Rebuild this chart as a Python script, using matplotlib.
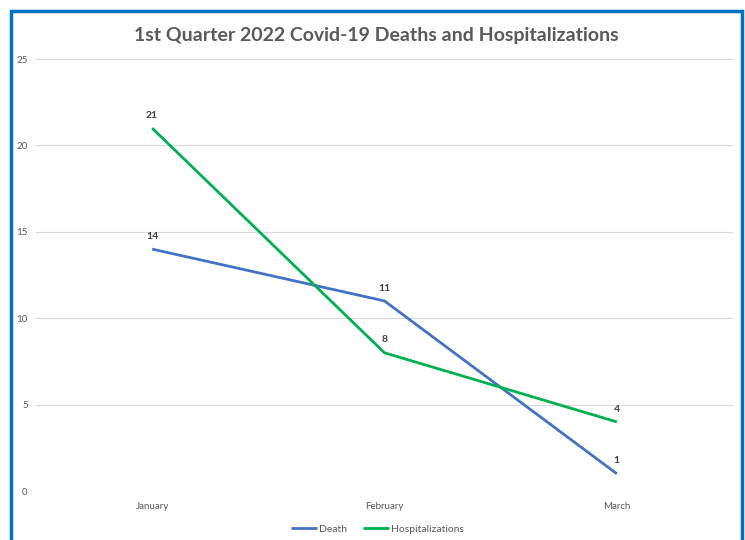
import matplotlib.pyplot as plt
from matplotlib.patches import Rectangle

months = ["January", "February", "March"]
deaths = [14, 11, 1]
hospitalizations = [21, 8, 4]

plt.rcParams['font.family'] = ['Lato', 'DejaVu Sans']

fig = plt.figure(figsize=(7.45, 5.4), dpi=100)
ax = fig.add_axes([0.0483, 0.0907, 0.9356, 0.80])

x = range(len(months))
ax.plot(x, deaths, color='#4472C4', linewidth=2, label='Death', solid_capstyle='butt')
ax.plot(x, hospitalizations, color='#00B050', linewidth=2, label='Hospitalizations',
        solid_capstyle='butt')

# data labels above points
for xi, v in zip(x, deaths):
    ax.annotate(str(v), (xi, v), xytext=(0, 6), textcoords='offset points',
                ha='center', va='bottom', fontsize=7.5, fontweight='bold', color='#404040')
for xi, v in zip(x, hospitalizations):
    ax.annotate(str(v), (xi, v), xytext=(0, 6), textcoords='offset points',
                ha='center', va='bottom', fontsize=7.5, fontweight='bold', color='#404040')

ax.set_xlim(-0.5, 2.5)
ax.set_ylim(0, 25)
ax.set_yticks(range(0, 26, 5))
ax.set_xticks(list(x))
ax.set_xticklabels(months)
ax.grid(axis='y', color='#D9D9D9', linewidth=0.8)
ax.set_axisbelow(True)
for s in ax.spines.values():
    s.set_visible(False)
ax.tick_params(length=0, labelsize=7, colors='#595959', pad=8)
ax.tick_params(axis='y', pad=6)

fig.text(0.505, 0.934, "1st Quarter 2022 Covid-19 Deaths and Hospitalizations",
         ha='center', va='center', fontsize=14, fontweight='bold', color='#595959')

fig.legend(loc='center', bbox_to_anchor=(0.507, 0.02), ncol=2, frameon=False,
           fontsize=7.5, labelcolor='#595959', handlelength=2.5, handletextpad=0.2,
           columnspacing=1.5)

# blue chart frame (bottom edge falls outside the image)
fig.patches.append(Rectangle((11 / 745, -0.1), 731 / 745, 1.1 - 11 / 540,
                             transform=fig.transFigure, fill=False,
                             edgecolor='#0070C0', linewidth=2.5))

fig.savefig('out.png', dpi=100)
